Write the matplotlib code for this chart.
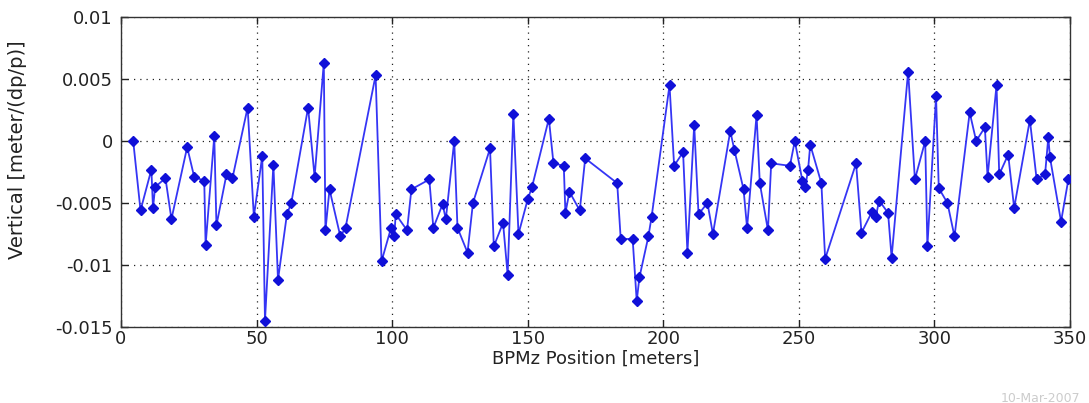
import matplotlib
matplotlib.use("Agg")
import matplotlib.pyplot as plt

# BPM positions [m]
position = [4.5, 7.2, 11.2, 11.8, 12.6, 16.4, 18.6, 24.4, 27.0, 30.7, 31.2, 34.4,
            35.2, 38.9, 41.1, 46.7, 49.0, 52.1, 53.1, 56.2, 57.9, 61.2, 62.8, 69.0,
            71.4, 74.8, 75.4, 76.9, 80.9, 82.8, 93.9, 96.1, 99.6, 100.8, 101.3, 105.5,
            107.1, 113.7, 115.2, 118.6, 119.8, 122.9, 124.1, 127.8, 129.8, 136.1, 137.5,
            140.9, 142.6, 144.7, 146.6, 150.0, 151.6, 157.8, 159.5, 163.3, 163.9, 165.4,
            169.2, 171.2, 183.0, 184.3, 188.7, 190.2, 191.2, 194.5, 195.7, 202.3, 204.0,
            207.3, 208.9, 211.4, 213.0, 216.3, 218.3, 224.7, 226.2, 229.6, 230.9, 234.4,
            235.6, 238.6, 239.8, 246.7, 248.5, 251.3, 252.4, 253.4, 254.2, 258.3, 259.7,
            271.1, 273.1, 277.0, 278.4, 279.6, 282.9, 284.2, 290.3, 292.8, 296.6, 297.4,
            300.6, 301.6, 304.8, 307.4, 313.0, 315.4, 318.6, 319.6, 322.9, 323.9, 327.2,
            329.4, 335.2, 337.7, 340.8, 342.0, 342.6, 346.7, 349.4]

# Vertical dispersion [m/(dp/p)]
vertical = [0.0000, -0.0056, -0.0023, -0.0054, -0.0037, -0.0030, -0.0063, -0.0005,
            -0.0029, -0.0032, -0.0084, 0.0004, -0.0068, -0.0027, -0.0030, 0.0027,
            -0.0061, -0.0012, -0.0145, -0.0019, -0.0112, -0.0059, -0.0050, 0.0027,
            -0.0029, 0.0063, -0.0072, -0.0039, -0.0077, -0.0070, 0.0053, -0.0097,
            -0.0070, -0.0077, -0.0059, -0.0072, -0.0039, -0.0031, -0.0070, -0.0051,
            -0.0063, 0.0000, -0.0070, -0.0090, -0.0050, -0.0006, -0.0085, -0.0066,
            -0.0108, 0.0022, -0.0075, -0.0047, -0.0037, 0.0018, -0.0018, -0.0020,
            -0.0058, -0.0041, -0.0056, -0.0014, -0.0034, -0.0079, -0.0079, -0.0129,
            -0.0110, -0.0077, -0.0061, 0.0045, -0.0020, -0.0009, -0.0090, 0.0013,
            -0.0059, -0.0050, -0.0075, 0.0008, -0.0007, -0.0039, -0.0070, 0.0021,
            -0.0034, -0.0072, -0.0018, -0.0020, 0.0000, -0.0032, -0.0037, -0.0023,
            -0.0003, -0.0034, -0.0095, -0.0018, -0.0074, -0.0057, -0.0061, -0.0048,
            -0.0058, -0.0094, 0.0056, -0.0031, 0.0000, -0.0085, 0.0036, -0.0038,
            -0.0050, -0.0077, 0.0023, 0.0000, 0.0011, -0.0029, 0.0045, -0.0027,
            -0.0011, -0.0054, 0.0017, -0.0031, -0.0027, 0.0003, -0.0013, -0.0065,
            -0.0031]

x_ticks = [0, 50, 100, 150, 200, 250, 300, 350]
y_ticks = [-0.015, -0.01, -0.005, 0, 0.005, 0.01]
y_tick_labels = ["-0.015", "-0.01", "-0.005", "0", "0.005", "0.01"]

plt.rcParams['font.family'] = ['DejaVu Sans']

W, H = 1089, 403
fig = plt.figure(figsize=(W / 100, H / 100), dpi=100)
ax = fig.add_axes([121 / W, 1 - 327 / H, (1070 - 121) / W, (327 - 17) / H])

ax.plot(position, vertical, '-', color='#3535f5', linewidth=1.3,
        marker='D', markersize=5, markerfacecolor='#1010d8',
        markeredgecolor='#1010d8', zorder=3)

ax.set_xlim(0, 350)
ax.set_ylim(-0.015, 0.01)
ax.set_xticks(x_ticks)
ax.set_xticklabels([str(t) for t in x_ticks])
ax.set_yticks(y_ticks)
ax.set_yticklabels(y_tick_labels)

ax.grid(True, linestyle=(0, (1, 4)), color='#222222', linewidth=0.9)
ax.tick_params(direction='in', length=5, width=1.0, top=True, right=True,
               labelsize=13, colors='#222222')
ax.tick_params(axis='x', pad=2)
ax.tick_params(axis='y', pad=6)
for sp in ax.spines.values():
    sp.set_color('#333333')
    sp.set_linewidth(1.0)

ax.set_xlabel("BPMz Position [meters]", fontsize=13, color='#222222')
ax.set_ylabel("Vertical [meter/(dp/p)]", fontsize=14, color='#222222')
ax.xaxis.set_label_coords(0.5, (327 - 359) / 310)
ax.xaxis.label.set_va('center')
ax.yaxis.set_label_coords((18 - 121) / 949, (327 - 150) / 310)
ax.yaxis.label.set_va('center')

fig.text(1040 / W, 1 - 392 / H, "10-Mar-2007", fontsize=9, color='#cccccc',
         ha='center', va='top')

fig.savefig("out.png", dpi=100)
